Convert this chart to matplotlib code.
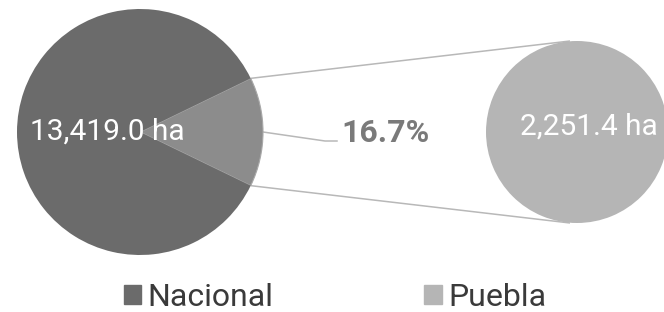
import numpy as np
import matplotlib
matplotlib.use('Agg')
import matplotlib.pyplot as plt
from matplotlib.patches import Patch

plt.rcParams['font.family'] = ['Roboto', 'DejaVu Sans']

# data
labels = ['Nacional', 'Puebla']
hectares = [13419.0, 2251.4]
pct_label = '16.7%'
colors = ['#6b6b6b', '#8c8c8c']
zoom_color = '#b5b5b5'

fig = plt.figure(figsize=(6.64, 3.12), dpi=100)
ax = fig.add_axes([0, 0, 1, 1])

# big pie, Puebla slice centred on the right
frac = hectares[1] / sum(hectares)
half = frac * 180
big_c, big_r = (140, 132), 123
wedges, _ = ax.pie([hectares[1], hectares[0]], colors=[colors[1], colors[0]],
                   startangle=-half, center=big_c, radius=big_r, frame=True)
wedges[0].set_edgecolor('#a8a8a8')
wedges[0].set_linewidth(0.8)

# zoomed circle for Puebla
sm_c, sm_r = (577, 132), 91
ax.pie([hectares[1]], colors=[zoom_color], center=sm_c, radius=sm_r, frame=True)

# connector lines
a = np.deg2rad(half)
for s in (1, -1):
    x0 = big_c[0] + big_r * np.cos(a)
    y0 = big_c[1] - s * big_r * np.sin(a)
    ax.plot([x0, sm_c[0] - 7], [y0, sm_c[1] - s * sm_r],
            color='#b8b8b8', lw=1.1, solid_capstyle='butt', zorder=0)

# percentage leader
ax.plot([big_c[0] + big_r, 325, 337], [big_c[1], 141, 141],
        color='#b8b8b8', lw=1.1, zorder=0)
ax.text(341, 141.5, pct_label, fontsize=23, fontweight='bold',
        color='#7a7a7a', ha='left', va='baseline')

ax.text(107, 139.5, f'{hectares[0]:,.1f} ha', fontsize=21.5, color='white',
        ha='center', va='baseline')
ax.text(589, 135, f'{hectares[1]:,.1f} ha', fontsize=21.5, color='white',
        ha='center', va='baseline')

ax.set_xlim(0, 664)
ax.set_ylim(312, 0)
ax.set_aspect('equal')
ax.axis('off')

handles = [Patch(color=colors[0]), Patch(color=zoom_color)]
ax.legend(handles, labels, loc='center', bbox_to_anchor=(335 / 664, 1 - 297 / 312),
          ncol=2, frameon=False, fontsize=23, labelcolor='#3a3a3a',
          handlelength=0.55, handleheight=0.55, handletextpad=0.2,
          columnspacing=4.7, borderpad=0)

fig.savefig('out.png', dpi=100)
